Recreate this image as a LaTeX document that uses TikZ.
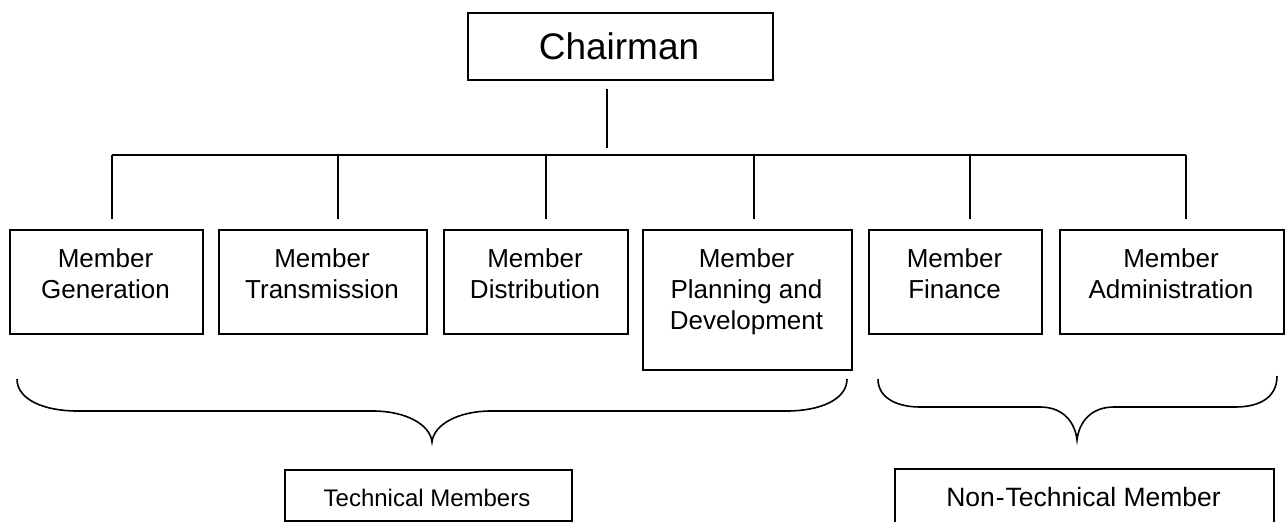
\documentclass[tikz,border=0pt]{standalone}
\usepackage{fontspec}
\setmainfont{Liberation Sans}
\begin{document}
\begin{tikzpicture}[x=1pt,y=-1pt,
  box/.style={draw, line width=1.5pt, inner sep=0pt, anchor=north west},
  mtext/.style={font=\fontsize{26}{31}\selectfont, align=center, inner sep=0pt, anchor=north},
  btext/.style={inner sep=0pt, anchor=base},
  conn/.style={line width=1.5pt},
  brace/.style={line width=1.6pt}]
\useasboundingbox (0,0) rectangle (1285,522);
\clip (0,0) rectangle (1285,522);

% Chairman
\node[box, minimum width=305pt, minimum height=67pt] (chair) at (467,12) {};
\node[font=\fontsize{37}{44}\selectfont, inner sep=0pt] (chairT) at (619,46) {Chairman};

% member boxes
\node[box, minimum width=193pt, minimum height=104pt] (gen) at (9,229) {};
\node[mtext] (genT) at (105.5,248) {Member\\Generation};
\node[box, minimum width=208pt, minimum height=104pt] (tra) at (218,229) {};
\node[mtext] (traT) at (322,248) {Member\\Transmission};
\node[box, minimum width=184pt, minimum height=104pt] (dis) at (443,229) {};
\node[mtext] (disT) at (535,248) {Member\\Distribution};
\node[box, minimum width=209pt, minimum height=140pt] (pla) at (642,229) {};
\node[mtext] (plaT) at (746.5,248) {Member\\Planning and\\Development};
\node[box, minimum width=173pt, minimum height=104pt] (fin) at (868,229) {};
\node[mtext] (finT) at (954.5,248) {Member\\Finance};
\node[box, minimum width=224pt, minimum height=104pt] (adm) at (1059,229) {};
\node[mtext] (admT) at (1171,248) {Member\\Administration};

% connectors
\coordinate (c1) at (607,89);
\coordinate (c2) at (607,148);
\draw[conn] (c1) -- (c2);
\coordinate (busL) at (112,155);
\coordinate (busR) at (1186,155);
\draw[conn] (busL) -- (busR);
\foreach \x/\n in {112/gen,338/tra,546/dis,754/pla,970/fin,1186/adm}{
  \coordinate (top\n) at (\x,155);
  \coordinate (bot\n) at (\x,219);
  \draw[conn] (top\n) -- (bot\n);
}

% braces
\coordinate (lb1) at (17,379);
\coordinate (lbtip) at (432,442);
\coordinate (lb2) at (847,379);
\draw[brace] (lb1) .. controls (17,400) and (45,411) .. (77,411) -- (373,411)
  .. controls (405,411) and (430,424) .. (lbtip)
  .. controls (434,424) and (459,411) .. (491,411) -- (787,411)
  .. controls (819,411) and (847,400) .. (lb2);
\coordinate (rb1) at (878,379);
\coordinate (rbtip) at (1077,440);
\coordinate (rb2) at (1277,376);
\draw[brace] (rb1) .. controls (878,398) and (897,407) .. (920,407) -- (1040,407)
  .. controls (1063,407) and (1075,422) .. (rbtip)
  .. controls (1079,422) and (1091,407) .. (1114,407) -- (1235,407)
  .. controls (1259,407) and (1277,398) .. (rb2);

% group labels
\node[box, minimum width=287pt, minimum height=51pt] (tech) at (284,469) {};
\node[btext, font=\fontsize{24}{29}\selectfont] (techT) at (427,506) {Technical Members};
\node[box, minimum width=379pt, minimum height=70pt] (ntech) at (894,468) {};
\node[btext, font=\fontsize{26.5}{31}\selectfont] (ntechT) at (1083.5,506) {Non\kern1pt-\kern1pt Technical Member};
\end{tikzpicture}
\end{document}
